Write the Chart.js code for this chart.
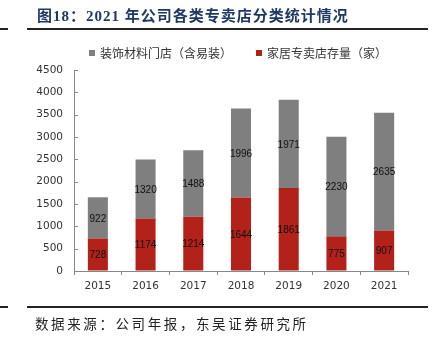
<!DOCTYPE html>
<html><head><meta charset="utf-8">
<script src="https://cdn.jsdelivr.net/npm/chart.js@4/dist/chart.umd.min.js"></script>
<style>
html,body{margin:0;padding:0;background:#fff;}
#wrap{position:relative;width:441px;height:340px;overflow:hidden;}
canvas{position:absolute;left:0;top:0;}
.title{position:absolute;left:37px;top:4px;font:bold 15px "Liberation Serif","Noto Sans CJK SC",serif;color:#1F3864;white-space:nowrap;letter-spacing:1px;}
.line{position:absolute;height:2px;background:#222;}
.src{position:absolute;left:35px;top:313px;font:13.5px "Noto Sans CJK SC",serif;color:#222;letter-spacing:2.6px;white-space:nowrap;}
</style></head>
<body><div id="wrap">
<canvas id="c" width="441" height="340"></canvas>
<div class="title">图18：2021 年公司各类专卖店分类统计情况</div>
<div class="line" style="left:0;width:8px;top:28px"></div>
<div class="line" style="left:27px;width:401px;top:28px"></div>
<div class="line" style="left:0;width:8px;top:306px"></div>
<div class="line" style="left:27px;width:401px;top:306px"></div>
<div class="src">数据来源：公司年报，东吴证券研究所</div>
</div>
<script>
const categories = ['2015','2016','2017','2018','2019','2020','2021'];
const seriesNames = ['家居专卖店存量（家）','装饰材料门店（含易装）'];
const storeValues = [728,1174,1214,1644,1861,775,907];
const decorValues = [922,1320,1488,1996,1971,2230,2635];
const yTicks = [0,500,1000,1500,2000,2500,3000,3500,4000,4500];

const RED = '#B3221A', GREY = '#7F7F7F';

const valueLabels = {
  id:'valueLabels',
  afterDatasetsDraw(chart){
    const ctx = chart.ctx;
    ctx.save();
    ctx.font = '10px "Liberation Sans", Arial, sans-serif';
    ctx.fillStyle = '#111';
    ctx.textAlign = 'center';
    ctx.textBaseline = 'middle';
    chart.data.datasets.forEach((ds,i)=>{
      chart.getDatasetMeta(i).data.forEach((el,j)=>{
        ctx.fillText(String(ds.data[j]), el.x, (el.y+el.base)/2 + 1);
      });
    });
    ctx.restore();
  }
};

const axisExtras = {
  id:'axisExtras',
  afterDraw(chart){
    const ctx = chart.ctx, y = chart.scales.y, a = chart.chartArea;
    ctx.save();
    ctx.strokeStyle = '#888'; ctx.lineWidth = 1;
    y.ticks.forEach(t=>{
      if (t.value === 0) return;
      const py = Math.round(y.getPixelForValue(t.value)) + 0.5;
      ctx.beginPath(); ctx.moveTo(a.left, py); ctx.lineTo(a.left+4, py); ctx.stroke();
    });
    // legend
    ctx.font = '12px "Noto Sans CJK SC", sans-serif';
    ctx.textBaseline = 'middle';
    const items = [{x:89, ds:1},{x:256, ds:0}];
    items.forEach(it=>{
      const ds = chart.data.datasets[it.ds];
      ctx.fillStyle = ds.backgroundColor;
      ctx.fillRect(it.x, 50, 6, 6);
      ctx.fillStyle = '#333';
      ctx.fillText(ds.label, it.x+11, 53);
    });
    ctx.restore();
  }
};

new Chart(document.getElementById('c'), {
  type:'bar',
  data:{
    labels: categories,
    datasets:[
      {label: seriesNames[0], data: storeValues, backgroundColor: RED, stack:'s'},
      {label: seriesNames[1], data: decorValues, backgroundColor: GREY, stack:'s'}
    ]
  },
  options:{
    responsive:false, animation:false, devicePixelRatio:1,
    layout:{padding:{left:0,right:33,top:70,bottom:39}},
    plugins:{legend:{display:false}, tooltip:{enabled:false}},
    datasets:{bar:{categoryPercentage:1, barPercentage:0.42}},
    scales:{
      x:{
        stacked:true,
        afterFit(s){ s.height = 30; },
        grid:{display:true, drawOnChartArea:false, drawTicks:true, tickLength:4, offset:true, color:'#888'},
        border:{display:true, color:'#888', width:1},
        ticks:{font:{family:'"DejaVu Sans", sans-serif', size:10.5}, color:'#333', padding:5}
      },
      y:{
        stacked:true, min:0, max:4500,
        afterFit(s){ s.width = 74; },
        afterBuildTicks(s){ s.ticks = yTicks.map(v=>({value:v})); },
        grid:{display:true, drawOnChartArea:false, drawTicks:false},
        border:{display:true, color:'#888', width:1},
        ticks:{font:{family:'"DejaVu Sans", sans-serif', size:10.5}, color:'#333', padding:11,
               callback:(v)=>String(v)}
      }
    }
  },
  plugins:[valueLabels, axisExtras]
});
</script>
</body></html>
